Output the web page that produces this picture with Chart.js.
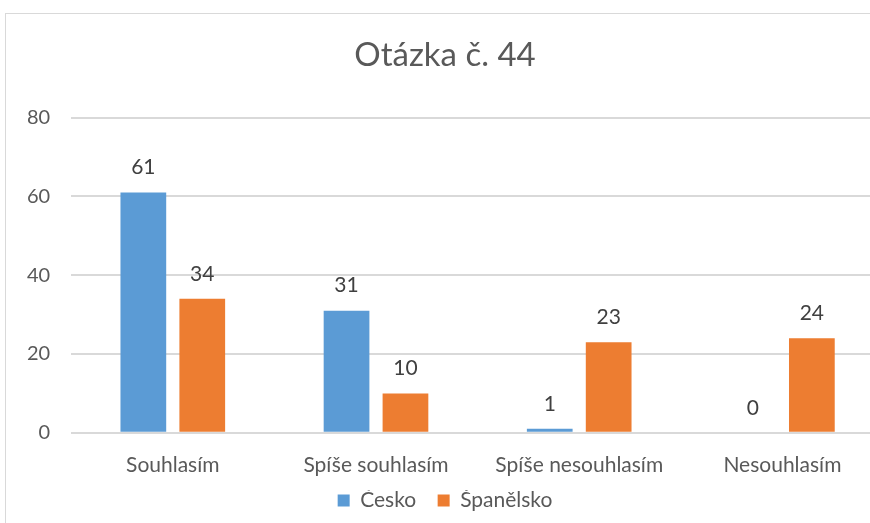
<!DOCTYPE html>
<html>
<head>
<meta charset="utf-8">
<script src="https://cdn.jsdelivr.net/npm/chart.js@4/dist/chart.umd.min.js"></script>
<style>
  html, body { margin: 0; padding: 0; background: #fff; overflow: hidden; }
  #ram { position: absolute; left: 5px; top: 13px; width: 900px; height: 530px; border: 1px solid #D9D9D9; }
  canvas { display: block; }
</style>
</head>
<body>
<div id="ram"><canvas id="graf" width="880" height="512"></canvas></div>
<script>
// data z grafu
const kategorie = ['Souhlasím', 'Spíše souhlasím', 'Spíše nesouhlasím', 'Nesouhlasím'];
const cesko = [61, 31, 1, 0];
const spanelsko = [34, 10, 23, 24];
const osaY = [0, 20, 40, 60, 80];

const pismo = 'Lato, "Open Sans", sans-serif';
const barvaTextu = '#595959';

// popisky hodnot nad sloupci
const popiskyHodnot = {
  id: 'popiskyHodnot',
  afterDatasetsDraw(chart) {
    const ctx = chart.ctx;
    ctx.save();
    ctx.font = '21px ' + pismo;
    ctx.fillStyle = '#404040';
    ctx.textAlign = 'center';
    ctx.textBaseline = 'middle';
    chart.data.datasets.forEach((ds, i) => {
      chart.getDatasetMeta(i).data.forEach((bar, j) => {
        ctx.fillText(String(ds.data[j]), bar.x, bar.y - 25);
      });
    });
    ctx.restore();
  }
};

new Chart(document.getElementById('graf').getContext('2d'), {
  type: 'bar',
  data: {
    labels: kategorie,
    datasets: [
      { label: 'Česko', data: cesko, backgroundColor: '#5B9BD5' },
      { label: 'Španělsko', data: spanelsko, backgroundColor: '#ED7D31' }
    ]
  },
  options: {
    responsive: false,
    animation: false,
    categoryPercentage: 0.58,
    barPercentage: 0.776,
    layout: { padding: { left: 0, right: 2, top: 0, bottom: 5 } },
    plugins: {
      title: {
        display: true,
        text: 'Otázka č. 44',
        color: barvaTextu,
        font: { family: pismo, size: 33, weight: 'normal' },
        padding: { top: 22, bottom: 42 }
      },
      legend: {
        position: 'bottom',
        labels: {
          color: barvaTextu,
          font: { family: pismo, size: 21 },
          boxWidth: 12,
          boxHeight: 12,
          padding: 0,
          // mezera mezi polozkami legendy
          generateLabels(chart) {
            const pol = Chart.defaults.plugins.legend.labels.generateLabels(chart);
            return pol.map((l, i) => i < pol.length - 1 ? Object.assign(l, { text: l.text + '    ' }) : l);
          }
        }
      },
      tooltip: { enabled: false }
    },
    scales: {
      x: {
        grid: { display: false },
        border: { display: false },
        ticks: { color: barvaTextu, font: { family: pismo, size: 21 }, padding: 12, maxRotation: 0 }
      },
      y: {
        min: 0,
        max: 80,
        afterBuildTicks(axis) { axis.ticks = osaY.map(v => ({ value: v })); },
        grid: { color: '#D9D9D9', lineWidth: 2, drawTicks: false },
        border: { display: false },
        ticks: { color: barvaTextu, font: { family: pismo, size: 20 }, padding: 21 }
      }
    }
  },
  plugins: [popiskyHodnot]
});
</script>
</body>
</html>
